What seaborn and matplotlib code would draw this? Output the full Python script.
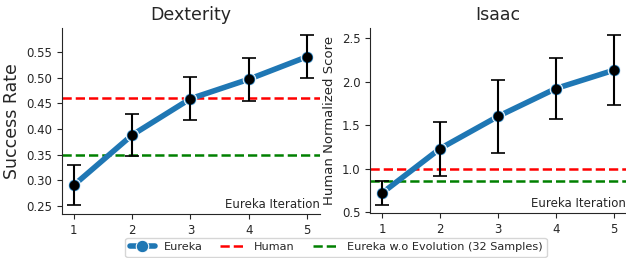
import numpy as np
import pandas as pd
import matplotlib
matplotlib.use("Agg")
import matplotlib.pyplot as plt
import seaborn as sns

# data
iterations = [1, 2, 3, 4, 5]
dex_mean = [0.290, 0.388, 0.459, 0.497, 0.541]
dex_err = [0.039, 0.041, 0.042, 0.042, 0.042]
dex_human = 0.46
dex_noevo = 0.35

isaac_mean = [0.72, 1.23, 1.60, 1.92, 2.13]
isaac_err = [0.14, 0.31, 0.42, 0.35, 0.40]
isaac_human = 1.0
isaac_noevo = 0.86

sns.set_style("ticks")
plt.rcParams['font.family'] = ['DejaVu Sans']

W, H = 626, 258
fig = plt.figure(figsize=(W / 100, H / 100), dpi=100)
ax1 = fig.add_axes([62 / W, 1 - 214 / H, 258 / W, 186 / H])
ax2 = fig.add_axes([370 / W, 1 - 213 / H, 256 / W, 185 / H])


def draw(ax, mean, err, human, noevo, title, ylabel, ylabel_size):
    df = pd.DataFrame({"iter": iterations, "score": mean})
    sns.lineplot(data=df, x="iter", y="score", ax=ax, color="#1f77b4",
                 linewidth=4, marker="o", markersize=9, label="Eureka", zorder=2)
    ax.errorbar(iterations, mean, yerr=err, fmt="o", color="black",
                markersize=6, capsize=5, elinewidth=1.5, capthick=1.2, zorder=3)
    ax.axhline(human, color="red", linestyle="--", linewidth=1.8, label="Human", zorder=1)
    ax.axhline(noevo, color="green", linestyle="--", linewidth=1.8,
               label="Eureka w.o Evolution (32 Samples)", zorder=1)
    ax.set_title(title, fontsize=12.5)
    ax.set_ylabel(ylabel, fontsize=ylabel_size)
    ax.set_xlabel("")
    ax.set_xticks(iterations)
    ax.text(1.0, 0.015, "Eureka Iteration", transform=ax.transAxes,
            ha="right", va="bottom", fontsize=8.5, color="#262626")
    ax.tick_params(labelsize=8.5)
    ax.get_legend().remove()
    sns.despine(ax=ax)


draw(ax1, dex_mean, dex_err, dex_human, dex_noevo, "Dexterity", "Success Rate", 12.5)
ax1.set_xlim(0.8, 5.22)
ax1.set_ylim(0.234, 0.597)
ax1.set_yticks([0.25, 0.30, 0.35, 0.40, 0.45, 0.50, 0.55])

draw(ax2, isaac_mean, isaac_err, isaac_human, isaac_noevo, "Isaac", "Human Normalized Score", 9.5)
ax2.set_xlim(0.79, 5.21)
ax2.set_ylim(0.49, 2.615)
ax2.set_yticks([0.5, 1.0, 1.5, 2.0, 2.5])

handles, labels = ax1.get_legend_handles_labels()
fig.legend(handles[:3], labels[:3], loc="upper center", bbox_to_anchor=(336 / W, 0.1),
           ncol=3, fontsize=8.1, frameon=True, handlelength=2.2, columnspacing=1.6)

fig.savefig("out.png", dpi=100)
